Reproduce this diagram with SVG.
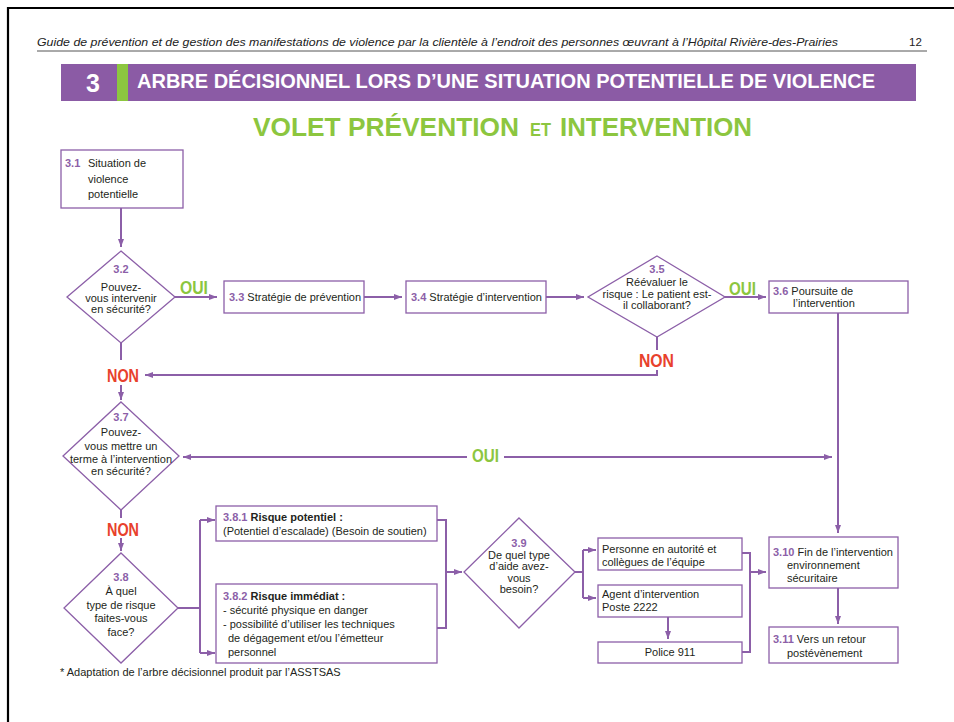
<svg xmlns="http://www.w3.org/2000/svg" width="954" height="722" viewBox="0 0 954 722">
<defs>
<marker id="ah" markerUnits="userSpaceOnUse" markerWidth="9" markerHeight="7" refX="8" refY="3" orient="auto">
<path d="M0,0 L8,3 L0,6 z" fill="#8c5fa8"/>
</marker>
<style>
.bx{fill:#fff;stroke:#8c5fa8;stroke-width:1.3}
.cn{fill:none;stroke:#8c5fa8;stroke-width:2}
.ar{marker-end:url(#ah)}
.t{font-family:"Liberation Sans",Arial,sans-serif;font-size:11px;fill:#231f20}
.tc{text-anchor:middle}
.n{font-weight:bold;fill:#8c5fa8}
.b{font-weight:bold}
.non{font-family:"Liberation Sans",Arial,sans-serif;font-weight:bold;font-size:19px;fill:#e8412c}
.oui{font-family:"Liberation Sans",Arial,sans-serif;font-weight:bold;font-size:18px;fill:#8cc63f}
.sub{font-family:"Liberation Sans",Arial,sans-serif;font-weight:bold;fill:#8cc63f}
</style>
</defs>
<rect width="954" height="722" fill="#fff"/>
<path d="M8,722 V8 H954" fill="none" stroke="#000" stroke-width="2.2"/>
<g id="header">
<text x="37" y="46" font-family="Liberation Sans,Arial,sans-serif" font-style="italic" font-size="11.5" fill="#222" textLength="801" lengthAdjust="spacingAndGlyphs">Guide de prévention et de gestion des manifestations de violence par la clientèle à l’endroit des personnes œuvrant à l’Hôpital Rivière-des-Prairies</text>
<text x="909" y="46" font-family="Liberation Sans,Arial,sans-serif" font-size="11.5" fill="#222">12</text>
<line x1="37" y1="51" x2="927" y2="51" stroke="#555" stroke-width="1"/>
</g>
<g id="banner">
<rect x="61" y="64" width="855" height="37" fill="#8b5ba5"/>
<rect x="117" y="64" width="11" height="37" fill="#8cc63f"/>
<text x="93" y="92" text-anchor="middle" font-family="Liberation Sans,Arial,sans-serif" font-weight="bold" font-size="25" fill="#fff">3</text>
<text x="137" y="88" font-family="Liberation Sans,Arial,sans-serif" font-weight="bold" font-size="20" fill="#fff" textLength="738" lengthAdjust="spacingAndGlyphs">ARBRE DÉCISIONNEL LORS D’UNE SITUATION POTENTIELLE DE VIOLENCE</text>
</g>
<g id="subtitle">
<text class="sub" x="253" y="136" font-size="26" textLength="266" lengthAdjust="spacingAndGlyphs">VOLET PRÉVENTION</text>
<text class="sub" x="530" y="136" font-size="18" textLength="21" lengthAdjust="spacingAndGlyphs">ET</text>
<text class="sub" x="560" y="136" font-size="26" textLength="192" lengthAdjust="spacingAndGlyphs">INTERVENTION</text>
</g>

<g id="connectors">
<path class="cn ar" d="M121,208 V247"/>
<path class="cn ar" d="M175,297 H217"/>
<path class="cn ar" d="M364,297 H402"/>
<path class="cn ar" d="M546,297 H584"/>
<path class="cn ar" d="M725,297 H766"/>
<path class="cn" d="M657,337 V350"/>
<path class="cn ar" d="M657,370 V375 H145"/>
<path class="cn" d="M121,343 V360"/>
<path class="cn ar" d="M121,385 V400"/>
<path class="cn ar" d="M838,313 V533"/>
<path class="cn ar" d="M467,457 H183"/>
<path class="cn ar" d="M504,457 H832"/>
<path class="cn" d="M121,510 V518"/>
<path class="cn ar" d="M121,538 V551"/>
<path class="cn" d="M178,608 H200 M200,520 V653"/>
<path class="cn ar" d="M200,520 H215"/>
<path class="cn ar" d="M200,653 H215"/>
<path class="cn" d="M437,520 H446 V628 H437"/>
<path class="cn ar" d="M446,572 H462"/>
<path class="cn" d="M575,572 H583 M583,550 V598"/>
<path class="cn ar" d="M583,550 H596"/>
<path class="cn ar" d="M583,598 H596"/>
<path class="cn ar" d="M668,617 V639"/>
<path class="cn" d="M742,553 H750 V652 H742"/>
<path class="cn ar" d="M750,572 H766"/>
<path class="cn ar" d="M838,588 V624"/>
</g>

<g id="labels">
<text class="oui" x="180" y="294" textLength="28" lengthAdjust="spacingAndGlyphs">OUI</text>
<text class="oui" x="729" y="295" textLength="27" lengthAdjust="spacingAndGlyphs">OUI</text>
<text class="oui" x="472" y="462" font-size="16" textLength="27" lengthAdjust="spacingAndGlyphs">OUI</text>
<text class="non" x="107" y="382" textLength="32" lengthAdjust="spacingAndGlyphs">NON</text>
<text class="non" x="639" y="367" textLength="35" lengthAdjust="spacingAndGlyphs">NON</text>
<text class="non" x="107" y="536" textLength="32" lengthAdjust="spacingAndGlyphs">NON</text>
</g>

<g id="n3_1">
<rect class="bx" x="61" y="150" width="122" height="58"/>
<text class="t" font-size="12.7" x="65" y="167"><tspan class="n">3.1</tspan><tspan x="88">Situation de</tspan></text>
<text class="t" font-size="12.7" x="88" y="183">violence</text>
<text class="t" font-size="12.7" x="88" y="198">potentielle</text>
</g>
<g id="n3_2">
<polygon class="bx" points="121,251 175,297 121,343 67,297"/>
<text class="t tc n" font-size="13" x="121" y="273">3.2</text>
<text class="t tc" x="121" y="291">Pouvez-</text>
<text class="t tc" x="121" y="302">vous intervenir</text>
<text class="t tc" x="121" y="313">en sécurité?</text>
</g>
<g id="n3_3">
<rect class="bx" x="224" y="281" width="140" height="32"/>
<text class="t" x="229" y="301"><tspan class="n">3.3</tspan> Stratégie de prévention</text>
</g>
<g id="n3_4">
<rect class="bx" x="406" y="281" width="140" height="32"/>
<text class="t" x="411" y="301"><tspan class="n">3.4</tspan> Stratégie d’intervention</text>
</g>
<g id="n3_5">
<polygon class="bx" points="657,256 725,297 657,337 588,297"/>
<text class="t tc n" font-size="12" x="657" y="273">3.5</text>
<text class="t tc" font-size="10.5" x="657" y="286">Réévaluer le</text>
<text class="t tc" font-size="10.5" x="657" y="298">risque : Le patient est-</text>
<text class="t tc" font-size="10.5" x="657" y="309">il collaborant?</text>
</g>
<g id="n3_6">
<rect class="bx" x="769" y="281" width="139" height="32"/>
<text class="t" x="773" y="295"><tspan class="n">3.6</tspan> Poursuite de</text>
<text class="t" x="793" y="307">l’intervention</text>
</g>
<g id="n3_7">
<polygon class="bx" points="121,402 179,456 121,510 63,456"/>
<text class="t tc n" font-size="13" x="121" y="421">3.7</text>
<text class="t tc" font-size="11.5" x="121" y="436">Pouvez-</text>
<text class="t tc" font-size="11.5" x="121" y="450">vous mettre un</text>
<text class="t tc" font-size="11.5" x="121" y="463">terme à l’intervention</text>
<text class="t tc" font-size="11.5" x="121" y="475">en sécurité?</text>
</g>
<g id="n3_8">
<polygon class="bx" points="121,553 178,608 121,663 64,608"/>
<text class="t tc n" font-size="13" x="121" y="581">3.8</text>
<text class="t tc" font-size="11.5" x="121" y="595">À quel</text>
<text class="t tc" font-size="11.5" x="121" y="609">type de risque</text>
<text class="t tc" font-size="11.5" x="121" y="622">faites-vous</text>
<text class="t tc" font-size="11.5" x="121" y="636">face?</text>
</g>
<g id="n3_8_1">
<rect class="bx" x="216" y="506" width="221" height="35"/>
<text class="t" x="223" y="521"><tspan class="n">3.8.1</tspan> <tspan class="b">Risque potentiel :</tspan></text>
<text class="t" x="223" y="535">(Potentiel d’escalade) (Besoin de soutien)</text>
</g>
<g id="n3_8_2">
<rect class="bx" x="216" y="584" width="221" height="79"/>
<text class="t" x="223" y="600"><tspan class="n">3.8.2</tspan> <tspan class="b">Risque immédiat :</tspan></text>
<text class="t" x="223" y="614">- sécurité physique en danger</text>
<text class="t" x="223" y="628">- possibilité d’utiliser les techniques</text>
<text class="t" x="228" y="642">de dégagement et/ou l’émetteur</text>
<text class="t" x="228" y="656">personnel</text>
</g>
<g id="n3_9">
<polygon class="bx" points="519,518 575,572 519,628 464,572"/>
<text class="t tc n" font-size="12" x="519" y="547">3.9</text>
<text class="t tc" x="519" y="559">De quel type</text>
<text class="t tc" x="519" y="570">d’aide avez-</text>
<text class="t tc" x="519" y="582">vous</text>
<text class="t tc" x="519" y="593">besoin?</text>
</g>
<g id="n_personne">
<rect class="bx" x="598" y="538" width="144" height="32"/>
<text class="t" x="602" y="553">Personne en autorité et</text>
<text class="t" x="602" y="566">collègues de l’équipe</text>
</g>
<g id="n_agent">
<rect class="bx" x="598" y="585" width="144" height="32"/>
<text class="t" x="602" y="598">Agent d’intervention</text>
<text class="t" x="602" y="611">Poste 2222</text>
</g>
<g id="n_police">
<rect class="bx" x="598" y="642" width="144" height="21"/>
<text class="t tc" x="670" y="656">Police 911</text>
</g>
<g id="n3_10">
<rect class="bx" x="769" y="537" width="129" height="51"/>
<text class="t" x="773" y="556"><tspan class="n">3.10</tspan> Fin de l’intervention</text>
<text class="t" x="787" y="569">environnement</text>
<text class="t" x="787" y="582">sécuritaire</text>
</g>
<g id="n3_11">
<rect class="bx" x="769" y="627" width="129" height="36"/>
<text class="t" x="773" y="643"><tspan class="n">3.11</tspan> Vers un retour</text>
<text class="t" x="787" y="657">postévènement</text>
</g>
<g id="footnote">
<text class="t" font-size="8" x="60" y="676">* Adaptation de l’arbre décisionnel produit par l’ASSTSAS</text>
</g>
</svg>
